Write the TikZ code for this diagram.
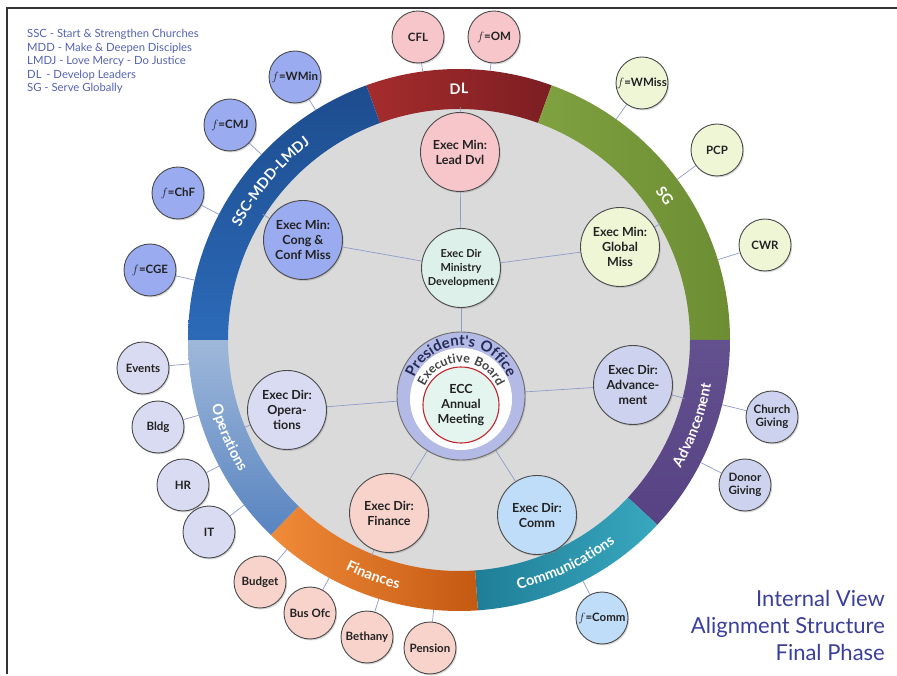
\documentclass[tikz,border=0pt]{standalone}
\usepackage{fontspec}
\setmainfont{Lato}
\usetikzlibrary{calc,shadows,decorations.text}
\definecolor{pinkb}{HTML}{F7C6CB}
\definecolor{blueb}{HTML}{9AABF0}
\definecolor{greenb}{HTML}{EEF6D6}
\definecolor{opsb}{HTML}{D8DBF1}
\definecolor{advb}{HTML}{CDD2EE}
\definecolor{finb}{HTML}{F8D3CB}
\definecolor{commb}{HTML}{BFDDF8}
\definecolor{mintb}{HTML}{DDF1EA}
\definecolor{presring}{HTML}{B3BAE6}
\definecolor{eccb}{HTML}{E4F4EF}
\definecolor{redc}{HTML}{C0272D}
\definecolor{grayd}{HTML}{DADADA}
\definecolor{linkc}{HTML}{8E9CCB}
\definecolor{bubdraw}{HTML}{4A4A4A}
\definecolor{bubtext}{HTML}{222222}
\definecolor{legc}{HTML}{5563B5}
\definecolor{titc}{HTML}{3B3F9C}
\definecolor{presc}{HTML}{262B55}
\definecolor{dlA}{HTML}{A52C2D}\definecolor{dlB}{HTML}{7C1E22}
\definecolor{sscA}{HTML}{2C6AB8}\definecolor{sscB}{HTML}{1D4C8E}
\definecolor{sgA}{HTML}{80A140}\definecolor{sgB}{HTML}{6C8D32}
\definecolor{advA}{HTML}{63508F}\definecolor{advB}{HTML}{574383}
\definecolor{comA}{HTML}{38A8BF}\definecolor{comB}{HTML}{1F7E97}
\definecolor{finA}{HTML}{F08B39}\definecolor{finB}{HTML}{C45912}
\definecolor{opsA}{HTML}{9FB8DA}\definecolor{opsB}{HTML}{5884C0}
\newfontfamily\spacedfont[LetterSpace=7]{Lato}
\pgfdeclarelayer{bg}
\pgfdeclarelayer{lines}
\pgfsetlayers{bg,lines,main}
\newcommand\ringseg[3]{%
  \path[#1] ($(C)+(#2:271)$) arc[start angle=#2,end angle=#3,radius=271]
    -- ($(C)+(#3:231)$) arc[start angle=#3,end angle=#2,radius=231] -- cycle;}
\newcommand\bandfont{\spacedfont\bfseries\fontsize{14.5}{14.5}\selectfont}
\newcommand\bandlabel[4]{%
  \path[decorate,decoration={text along path,text={|\bandfont|#1},text align=center,text color=white}]
    ($(C)+(#2:#4)$) arc[start angle=#2,end angle=#3,radius=#4];}
\begin{document}
\begin{tikzpicture}[x=1pt,y=1pt,
  bub/.style={circle,draw=bubdraw,line width=0.9pt,inner sep=0pt,align=center,text=bubtext,
    font=\bfseries\fontsize{11.5}{13.5}\selectfont,minimum size=52pt,
    drop shadow={opacity=0.3,shadow xshift=1.2pt,shadow yshift=-1.5pt}},
  big/.style={bub,minimum size=79pt,font=\bfseries\fontsize{12.5}{15}\selectfont},
  link/.style={draw=linkc,line width=0.7pt}]
\useasboundingbox (0,0) rectangle (897,675);
\coordinate (C) at (459,335);
\coordinate (P) at (461,279);
\begin{pgfonlayer}{bg}
  \fill[white] (0,0) rectangle (897,675);
  \fill[grayd] (C) circle[radius=233];
  \ringseg{shade,left color=dlA,right color=dlB}{110}{70}
  \ringseg{shade,left color=sgA,right color=sgB}{70}{0}
  \ringseg{shade,top color=advA,bottom color=advB}{0}{-43}
  \ringseg{shade,left color=comB,right color=comA}{-43}{-86}
  \ringseg{shade,left color=finA,right color=finB}{-86}{-134}
  \ringseg{shade,top color=opsA,bottom color=opsB}{-134}{-180}
  \ringseg{shade,top color=sscB,bottom color=sscA}{180}{110}
  \bandlabel{DL}{110}{70}{246}
  \bandlabel{SG}{68}{2}{246}
  \bandlabel{SSC-MDD-LMDJ}{178}{102}{246}
  \bandlabel{Advancement}{-41}{1}{256}
  \bandlabel{Communications}{-87}{-42}{256}
  \bandlabel{Finances}{226}{274}{256}
  \bandlabel{Operations}{180}{226}{256}
\end{pgfonlayer}
% frame
\draw[line width=1.2pt,color=black!80] (7,1) -- (7,667) -- (897,667);
% legend
\node[anchor=north west,inner sep=0pt,align=left,text=legc,font=\fontsize{11.3}{13.6}\selectfont] (legend) at (27,646)
 {SSC - Start \& Strengthen Churches\\MDD - Make \& Deepen Disciples\\LMDJ - Love Mercy - Do Justice\\DL \,- Develop Leaders\\SG - Serve Globally};
% title
\node[anchor=north east,inner sep=0pt,align=right,text=titc,font=\fontsize{22}{27}\selectfont] (title) at (885,85)
 {Internal View\\Alignment Structure\\Final Phase};
% president
\node[circle,draw=bubdraw!80,line width=0.9pt,fill=presring,minimum size=128pt,inner sep=0pt,
  drop shadow={opacity=0.3,shadow xshift=1.2pt,shadow yshift=-1.5pt}] (Pres) at (P) {};
\fill[white] (461,276) circle[radius=51];
\node[circle,draw=redc,line width=1.1pt,fill=eccb,minimum size=76pt,inner sep=0pt,align=center,
  text=bubtext,font=\bfseries\fontsize{12.5}{15}\selectfont] (ECC) at (461,270) {ECC\\Annual\\Meeting};
\path[decorate,decoration={text along path,text={|\spacedfont\bfseries\fontsize{15}{15}\selectfont|President's Office},text align=center,text color=presc}]
  ($(P)+(180:50)$) arc[start angle=180,end angle=0,radius=50];
\path[decorate,decoration={text along path,text={|\spacedfont\bfseries\fontsize{12.5}{12.5}\selectfont|Executive Board},text align=center,text color=bubtext!85}]
  ($(461,273)+(188:39.5)$) arc[start angle=188,end angle=-8,radius=39.5];
% inner bubbles
\node[big,fill=pinkb] (Lead) at (460,523) {Exec Min:\\Lead Dvl};
\node[big,fill=mintb,font=\bfseries\fontsize{11}{14}\selectfont] (MinDev) at (461,407) {Exec Dir\\Ministry\\Development};
\node[big,fill=greenb] (Global) at (620,428) {Exec Min:\\Global\\Miss};
\node[big,fill=blueb] (Cong) at (303,435) {Exec Min:\\Cong \&\\Conf Miss};
\node[big,fill=opsb] (Ops) at (287,265) {Exec Dir:\\Opera-\\tions};
\node[big,fill=advb] (Adv) at (633,290) {Exec Dir:\\Advance-\\ment};
\node[big,fill=finb] (Fin) at (389,162) {Exec Dir:\\Finance};
\node[big,fill=commb] (Comm) at (537,160) {Exec Dir:\\Comm};
% outer bubbles
\node[bub,fill=pinkb] (CFL) at (418,638) {CFL};
\node[bub,fill=pinkb] (fOM) at (494,638) {$f$=OM};
\node[bub,fill=blueb] (fWMin) at (295,598) {$f$=WMin};
\node[bub,fill=blueb] (fCMJ) at (230,550) {$f$=CMJ};
\node[bub,fill=blueb] (fChF) at (178,482) {$f$=ChF};
\node[bub,fill=blueb] (fCGE) at (150,405) {$f$=CGE};
\node[bub,fill=opsb] (Events) at (143,307) {Events};
\node[bub,fill=opsb] (Bldg) at (158,248) {Bldg};
\node[bub,fill=opsb] (HR) at (183,190) {HR};
\node[bub,fill=opsb] (IT) at (209,143) {IT};
\node[bub,fill=finb] (Budget) at (260,93) {Budget};
\node[bub,fill=finb] (BusOfc) at (310,62) {Bus Ofc};
\node[bub,fill=finb] (Bethany) at (367,38) {Bethany};
\node[bub,fill=finb] (Pension) at (430,27) {Pension};
\node[bub,fill=commb] (fComm) at (602,57) {$f$=Comm};
\node[bub,fill=advb] (Donor) at (745,190) {Donor\\Giving};
\node[bub,fill=advb] (Church) at (772,258) {Church\\Giving};
\node[bub,fill=greenb] (CWR) at (765,430) {CWR};
\node[bub,fill=greenb] (PCP) at (717,525) {PCP};
\node[bub,fill=greenb] (fWMiss) at (642,592) {$f$=WMiss};
% connectors
\begin{pgfonlayer}{lines}
  \foreach \n in {CFL,fOM,fWMin,fCMJ,fChF,fCGE,Events,Bldg,HR,IT,Budget,BusOfc,Bethany,Pension,fComm,Donor,Church,CWR,PCP,fWMiss}
    \draw[link] (\n) -- ($(C)!271pt!(\n)$);
  \foreach \n in {Lead,Global,Cong,Ops,Adv,Fin,Comm}
    \draw[link] (\n) -- ($(C)!233pt!(\n)$);
  \draw[link] (Lead) -- (MinDev);
  \draw[link] (MinDev) -- (Cong);
  \draw[link] (MinDev) -- (Global);
  \draw[link] (MinDev) -- (Pres);
  \draw[link] (Pres) -- (Ops);
  \draw[link] (Pres) -- (Adv);
  \draw[link] (Pres) -- (Fin);
  \draw[link] (Pres) -- (Comm);
\end{pgfonlayer}
\end{tikzpicture}
\end{document}
